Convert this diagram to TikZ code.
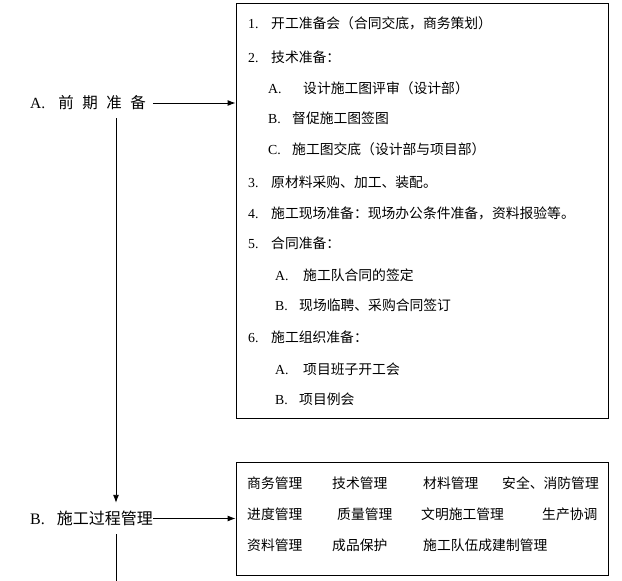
\documentclass[tikz,border=0pt]{standalone}
\usepackage{fontspec}
\setmainfont{Liberation Serif}
\newfontfamily\cjk{Noto Sans CJK SC}
\usetikzlibrary{arrows.meta}
\begin{document}
\begin{tikzpicture}[x=1bp,y=-1bp,
  txt/.style={anchor=base west, inner sep=0pt, font=\fontsize{13.8bp}{15bp}\selectfont\cjk},
  lab/.style={anchor=west, inner xsep=0pt, inner ysep=0pt, font=\fontsize{15.5bp}{17bp}\selectfont\cjk},
  box/.style={draw, line width=0.9bp, inner sep=0pt},
  conn/.style={line width=0.9bp},
  arr/.style={conn, -{Latex[length=8bp,width=6bp]}}]
\useasboundingbox (0,0) rectangle (622,581);

% boxes
\node[box, minimum width=372bp, minimum height=415bp] (topbox) at (422,210.5) {};
\node[box, minimum width=372bp, minimum height=113bp] (botbox) at (422,518.5) {};

% left labels
\node[lab, minimum height=30bp] (Alabel) at (30,103)
  {{\rmfamily A.}\hspace{13bp}前\hspace{8.5bp}期\hspace{8.5bp}准\hspace{8.5bp}备};
\node[lab, minimum height=31bp, font=\fontsize{16bp}{18bp}\selectfont\cjk] (Blabel) at (30,518.5)
  {{\rmfamily B.}\hspace{12bp}施工过程管理};
\coordinate (vbot) at (116,581);

% top box contents
\node[txt] (n1) at (248,29) {\rmfamily 1.};
\node[txt] (t1) at (271,29) {开工准备会（合同交底，商务策划）};
\node[txt] (n2) at (248,63) {\rmfamily 2.};
\node[txt] (t2) at (271,63) {技术准备：};
\node[txt] (a21) at (268,94) {\rmfamily A.};
\node[txt] (s21) at (303,94) {设计施工图评审（设计部）};
\node[txt] (b22) at (268,124) {\rmfamily B.};
\node[txt] (s22) at (292,124) {督促施工图签图};
\node[txt] (c23) at (268,155) {\rmfamily C.};
\node[txt] (s23) at (292,155) {施工图交底（设计部与项目部）};
\node[txt] (n3) at (248,187) {\rmfamily 3.};
\node[txt] (t3) at (271,187) {原材料采购、加工、装配。};
\node[txt] (n4) at (248,218) {\rmfamily 4.};
\node[txt] (t4) at (271,218) {施工现场准备：现场办公条件准备，资料报验等。};
\node[txt] (n5) at (248,248) {\rmfamily 5.};
\node[txt] (t5) at (271,248) {合同准备：};
\node[txt] (a51) at (275,280) {\rmfamily A.};
\node[txt] (s51) at (303,280) {施工队合同的签定};
\node[txt] (b52) at (275,310) {\rmfamily B.};
\node[txt] (s52) at (299,310) {现场临聘、采购合同签订};
\node[txt] (n6) at (248,342) {\rmfamily 6.};
\node[txt] (t6) at (271,342) {施工组织准备：};
\node[txt] (a61) at (275,374) {\rmfamily A.};
\node[txt] (s61) at (303,374) {项目班子开工会};
\node[txt] (b62) at (275,404) {\rmfamily B.};
\node[txt] (s62) at (299,404) {项目例会};

% bottom box contents
\node[txt] (m11) at (247,488) {商务管理};
\node[txt] (m12) at (332,488) {技术管理};
\node[txt] (m13) at (423,488) {材料管理};
\node[txt] (m14) at (502,488) {安全、消防管理};
\node[txt] (m21) at (247,519) {进度管理};
\node[txt] (m22) at (337,519) {质量管理};
\node[txt] (m23) at (421,519) {文明施工管理};
\node[txt] (m24) at (542,519) {生产协调};
\node[txt] (m31) at (247,550) {资料管理};
\node[txt] (m32) at (332,550) {成品保护};
\node[txt] (m33) at (423,550) {施工队伍成建制管理};

% connectors
\draw[arr, shorten <=7bp] (Alabel.east) -- (Alabel.east -| topbox.west);
\draw[arr] (Blabel.east) -- (Blabel.east -| botbox.west);
\draw[arr] (Alabel.south -| vbot) -- (Blabel.north -| vbot);
\draw[conn] (Blabel.south -| vbot) -- (vbot);
\end{tikzpicture}
\end{document}
